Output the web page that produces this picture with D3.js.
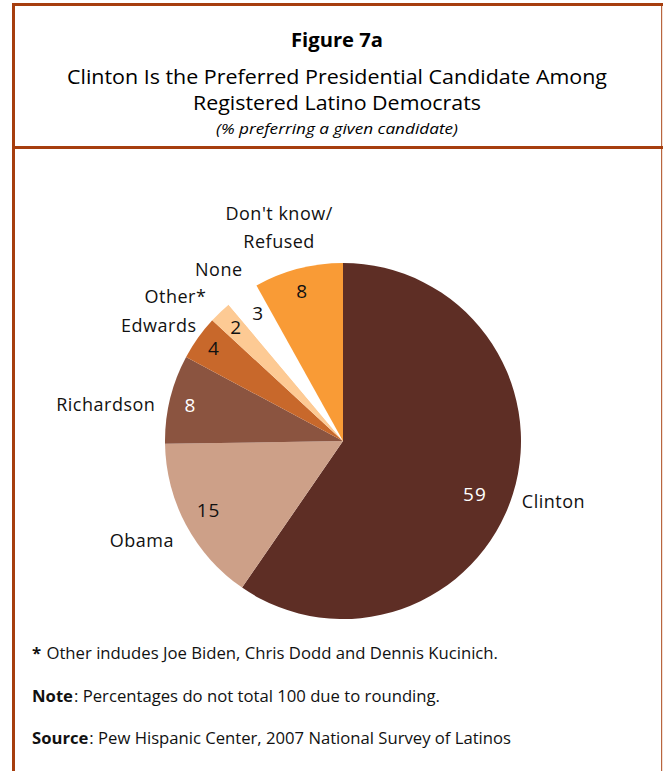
<!DOCTYPE html>
<html>
<head>
<meta charset="utf-8">
<script src="https://cdn.jsdelivr.net/npm/d3@7"></script>
<style>
  html, body { margin: 0; padding: 0; background: #fff; }
  svg { display: block; font-family: "Open Sans", "Noto Sans", sans-serif; }
  text { white-space: pre; }
</style>
</head>
<body>
<svg id="chart" width="663" height="771"></svg>
<script>
// Candidate preference among registered Latino Democrats (%)
const candidates = ["Clinton", "Obama", "Richardson", "Edwards", "Other*", "None", "Don't know/|Refused"];
const shares     = [59, 15, 8, 4, 2, 3, 8];

const figureLabel = "Figure 7a";
const titleLines  = ["Clinton Is the Preferred Presidential Candidate Among", "Registered Latino Democrats"];
const subtitle    = "(% preferring a given candidate)";
const noteLeads   = ["*", "Note", "Source"];
const noteBodies  = [" Other indudes Joe Biden, Chris Dodd and Dennis Kucinich.",
                     ": Percentages do not total 100 due to rounding.",
                     ": Pew Hispanic Center, 2007 National Survey of Latinos"];

// styling
const sliceColors = ["#5E2E25", "#CDA088", "#8B5440", "#C8682B", "#FDCA94", "#FFFFFF", "#F99B36"];
const valueInk    = ["#FFFFFF", "#111111", "#FFFFFF", "#111111", "#111111", "#111111", "#111111"];
const frameColor  = "#A63E0E";

// label placement tweaks (pixels) relative to the arc centroids
const nameNudge  = [[-2, -6], [-5, -6], [-21, 16], [-3, 14], [-14, 17], [2, 12], [-8, 2]];
const valueNudge = [[-16, 7], [2, -4], [-2, 1], [-3, -3], [0, -2], [3, 0], [-2, 0]];

const svg = d3.select("#chart");

// frame
const frame = svg.append("g").attr("fill", frameColor);
frame.append("rect").attr("x", 12).attr("y", 3).attr("width", 651).attr("height", 3);
frame.append("rect").attr("x", 12).attr("y", 3).attr("width", 3).attr("height", 768);
frame.append("rect").attr("x", 15).attr("y", 146).attr("width", 648).attr("height", 3);
frame.append("rect").attr("x", 661).attr("y", 3).attr("width", 1.2).attr("height", 768).attr("opacity", 0.8);

// squeezes a text element to a given width
function fit(sel, w) {
  sel.attr("textLength", w).attr("lengthAdjust", "spacingAndGlyphs");
  return sel;
}

// heading
const cx = 337;
fit(svg.append("text").attr("x", cx).attr("y", 47).attr("text-anchor", "middle")
  .attr("font-size", 19).attr("font-weight", 700).text(figureLabel), 92);
fit(svg.append("text").attr("x", cx).attr("y", 84).attr("text-anchor", "middle")
  .attr("font-size", 20).text(titleLines[0]), 540);
fit(svg.append("text").attr("x", cx).attr("y", 110).attr("text-anchor", "middle")
  .attr("font-size", 20).text(titleLines[1]), 288);
fit(svg.append("text").attr("x", cx).attr("y", 134).attr("text-anchor", "middle")
  .attr("font-size", 15).attr("font-style", "italic").text(subtitle), 242);

// pie
const center = [343, 441];
const r = 178;
const data = candidates.map((c, i) => ({ name: c, value: shares[i], i }));
const pie = d3.pie().value(d => d.value).sort(null);
const arcs = pie(data);
const arc = d3.arc().innerRadius(0).outerRadius(r);
const valueArc = d3.arc().innerRadius(r * 0.87).outerRadius(r * 0.87);
const nameArc = d3.arc().innerRadius(r * 1.25).outerRadius(r * 1.25);

const g = svg.append("g").attr("transform", `translate(${center[0]},${center[1]})`);

g.selectAll("path.slice").data(arcs).join("path")
  .attr("class", "slice")
  .attr("d", arc)
  .attr("fill", (d, i) => sliceColors[i]);

g.selectAll("text.value").data(arcs).join("text")
  .attr("class", "value")
  .attr("transform", (d, i) => {
    const [x, y] = valueArc.centroid(d);
    return `translate(${x + valueNudge[i][0]},${y + valueNudge[i][1]})`;
  })
  .attr("text-anchor", "middle")
  .attr("dy", "0.36em")
  .attr("font-size", 19)
  .attr("letter-spacing", 1)
  .attr("fill", (d, i) => valueInk[i])
  .text(d => d.data.value);

const names = g.selectAll("text.name").data(arcs).join("text")
  .attr("class", "name")
  .attr("transform", (d, i) => {
    const [x, y] = nameArc.centroid(d);
    return `translate(${x + nameNudge[i][0]},${y + nameNudge[i][1]})`;
  })
  .attr("text-anchor", "middle")
  .attr("font-size", 18)
  .attr("letter-spacing", 0.5)
  .attr("fill", "#111");

names.each(function (d) {
  const lines = d.data.name.split("|");
  const t = d3.select(this);
  const lh = 28;
  const start = -((lines.length - 1) * lh) / 2;
  lines.forEach((ln, k) => {
    t.append("tspan").attr("x", 0).attr("y", start + k * lh).attr("dy", "0.36em").text(ln);
  });
});

// footnotes: bold lead word followed by regular text, squeezed together to a set width
const footX = 32;
const footY = [659, 702, 744];
const footW = [466, 408, 479];
noteLeads.forEach((lead, i) => {
  const a = svg.append("text").attr("x", footX).attr("y", footY[i]).attr("font-size", 16)
    .attr("font-weight", 700).attr("fill", "#111").text(lead);
  const b = svg.append("text").attr("y", footY[i]).attr("font-size", 16)
    .attr("fill", "#111").text(noteBodies[i]);
  const wa = a.node().getComputedTextLength();
  const wb = b.node().getComputedTextLength();
  const k = (footW[i] - 1) / (wa + wb);
  fit(a, wa * k);
  b.attr("x", footX + wa * k + 1);
  fit(b, wb * k);
});
</script>
</body>
</html>
